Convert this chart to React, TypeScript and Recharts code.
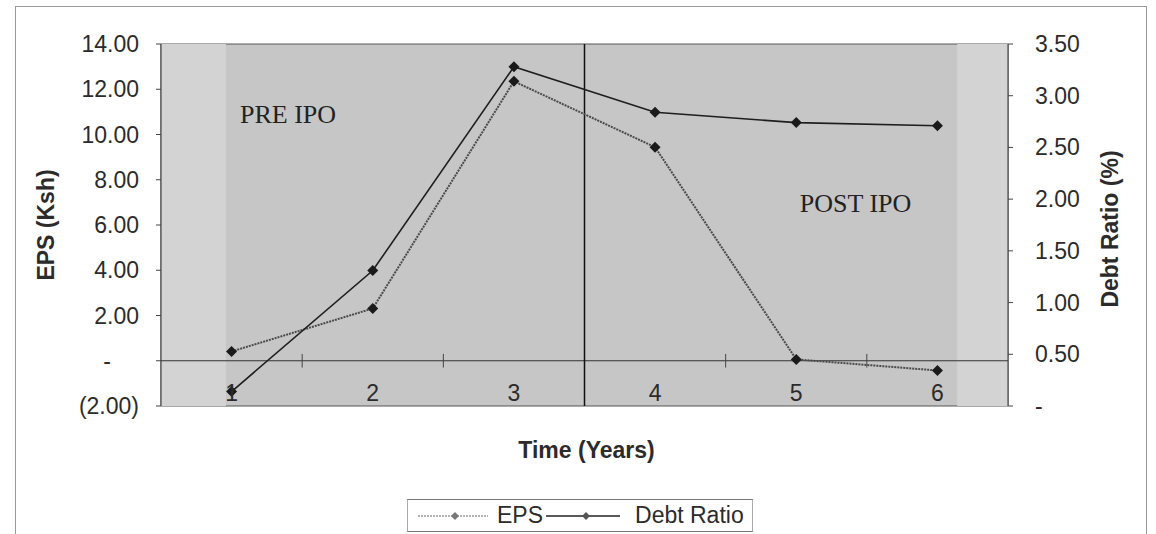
import React from "react";
import { LineChart, Line, XAxis, YAxis, Legend, ReferenceArea, ReferenceLine, ReferenceDot } from "recharts";

// values
const years = [1, 2, 3, 4, 5, 6];
const eps = [0.41, 2.31, 12.35, 9.44, 0.06, -0.43];
const debtRatio = [0.14, 1.31, 3.28, 2.84, 2.74, 2.71];
const epsTicks = [-2, 0, 2, 4, 6, 8, 10, 12, 14];
const debtTicks = [0, 0.5, 1, 1.5, 2, 2.5, 3, 3.5];
const yearBoundaries = [1.5, 2.5, 3.5, 4.5, 5.5];
const ipoSplit = 3.5;

const data = years.map((year, i) => ({ year, eps: eps[i], debt: debtRatio[i] }));

const FONT = "'Liberation Sans', Arial, sans-serif";
const SERIF = "'Liberation Serif', 'Times New Roman', serif";
const INK = "#2b2b2b";

const fmtEps = (v: number) => (v === 0 ? "-" : v < 0 ? `(${Math.abs(v).toFixed(2)})` : v.toFixed(2));
const fmtDebt = (v: number) => (v === 0 ? "-" : v.toFixed(2));

function Diamond({ cx, cy, size = 5.5, fill = "#1a1a1a" }: any) {
  if (cx == null || cy == null) return null;
  return (
    <polygon
      points={`${cx},${cy - size} ${cx + size},${cy} ${cx},${cy + size} ${cx - size},${cy}`}
      fill={fill}
    />
  );
}

const LeftTick = ({ x, y, payload }: any) => (
  <text
    x={payload.value === 0 ? x - 28 : x}
    y={y}
    dy={8}
    textAnchor="end"
    fill={INK}
    fontSize={23}
    fontFamily={FONT}
  >
    {fmtEps(payload.value)}
  </text>
);

const RightTick = ({ x, y, payload }: any) => (
  <text x={x} y={y} dy={8} textAnchor="start" fill={INK} fontSize={23} fontFamily={FONT}>
    {fmtDebt(payload.value)}
  </text>
);

// year labels sit inside the plot, just above its bottom edge
const YearTick = ({ x, y, payload }: any) => (
  <text x={x} y={y - 5} textAnchor="middle" fill={INK} fontSize={23} fontFamily={FONT}>
    {payload.value}
  </text>
);

const LegendBox = ({ payload }: any) => {
  const items = [...(payload || [])].sort((a: any, b: any) => (a.dataKey === "eps" ? -1 : b.dataKey === "eps" ? 1 : 0));
  return (
    <div style={{ height: 35 }}>
      <div
        style={{
          display: "flex",
          alignItems: "center",
          height: 31,
          border: "1px solid #aaa",
          borderTopColor: "#777",
          borderBottomColor: "#777",
          padding: "0 8px 0 10px",
          background: "#fff",
          fontFamily: FONT,
          fontSize: 23,
          color: INK,
        }}
      >
        {items.map((entry: any) => {
          const dotted = entry.dataKey === "eps";
          return (
            <div key={entry.value} style={{ display: "flex", alignItems: "center" }}>
              <svg width={dotted ? 70 : 74} height={14} style={{ marginLeft: dotted ? 0 : 3 }}>
                <line
                  x1={0}
                  y1={7}
                  x2={dotted ? 70 : 74}
                  y2={7}
                  stroke={dotted ? "#666" : "#222"}
                  strokeWidth={dotted ? 1.2 : 1.4}
                  strokeDasharray={dotted ? "2 1" : undefined}
                />
                <Diamond cx={dotted ? 37 : 40} cy={7} size={4} fill={dotted ? "#777" : "#555"} />
              </svg>
              <span style={{ marginLeft: dotted ? 9 : 15 }}>{entry.value}</span>
            </div>
          );
        })}
      </div>
    </div>
  );
};

export default function App() {
  return (
    <div style={{ position: "absolute", left: 0, top: 0, width: 1156, height: 534, background: "#fff", overflow: "hidden" }}>
      <div
        style={{
          position: "absolute",
          left: 15,
          top: 6,
          width: 1132,
          height: 560,
          border: "1px solid #999",
          boxSizing: "border-box",
        }}
      />
      <div style={{ position: "absolute", left: 0, top: 0 }}>
        <LineChart width={1156} height={534} data={data} margin={{ top: 44, right: 0, bottom: 0, left: 0 }}>
          <XAxis
            dataKey="year"
            type="number"
            domain={[0.5, 6.5]}
            ticks={years}
            tick={<YearTick />}
            tickLine={false}
            axisLine={false}
            tickSize={0}
            tickMargin={0}
            height={93}
            label={{
              content: ({ viewBox }: any) => (
                <text
                  x={viewBox.x + viewBox.width / 2 + 2}
                  y={viewBox.y + 52}
                  textAnchor="middle"
                  fill={INK}
                  fontSize={23}
                  fontWeight="bold"
                  fontFamily={FONT}
                >
                  Time (Years)
                </text>
              ),
            }}
          />
          <YAxis
            yAxisId="left"
            domain={[-2, 14]}
            ticks={epsTicks}
            width={161}
            tick={<LeftTick />}
            tickSize={5}
            tickMargin={17}
            tickLine={{ stroke: "#444" }}
            axisLine={{ stroke: "#333" }}
            label={{
              content: ({ viewBox }: any) => {
                const cx = viewBox.x + 46;
                const cy = viewBox.y + viewBox.height / 2;
                return (
                  <text
                    x={cx}
                    y={cy}
                    transform={`rotate(-90 ${cx} ${cy})`}
                    textAnchor="middle"
                    dominantBaseline="central"
                    fill={INK}
                    fontSize={23}
                    fontWeight="bold"
                    fontFamily={FONT}
                  >
                    EPS (Ksh)
                  </text>
                );
              },
            }}
          />
          <YAxis
            yAxisId="right"
            orientation="right"
            domain={[0, 3.5]}
            ticks={debtTicks}
            width={148}
            tick={<RightTick />}
            tickSize={5}
            tickMargin={22}
            tickLine={{ stroke: "#444" }}
            axisLine={{ stroke: "#333" }}
            label={{
              content: ({ viewBox }: any) => {
                const cx = viewBox.x + 102;
                const cy = viewBox.y + viewBox.height / 2 + 4;
                return (
                  <text
                    x={cx}
                    y={cy}
                    transform={`rotate(-90 ${cx} ${cy})`}
                    textAnchor="middle"
                    dominantBaseline="central"
                    fill={INK}
                    fontSize={23}
                    fontWeight="bold"
                    fontFamily={FONT}
                  >
                    Debt Ratio (%)
                  </text>
                );
              },
            }}
          />
          <Legend verticalAlign="bottom" content={<LegendBox />} wrapperStyle={{ left: 407, width: "auto" }} />

          {/* plot background (silver) with the lighter scanned edges */}
          <ReferenceArea yAxisId="left" x1={0.5} x2={6.5} y1={-2} y2={14} fill="#c6c6c6" fillOpacity={1} stroke="#555" strokeWidth={1} />
          <ReferenceArea yAxisId="left" x1={0.5} x2={0.96} y1={-2} y2={14} fill="#d3d3d3" fillOpacity={1} />
          <ReferenceArea yAxisId="left" x1={6.14} x2={6.5} y1={-2} y2={14} fill="#d3d3d3" fillOpacity={1} />

          <ReferenceLine yAxisId="left" y={0} stroke="#333" strokeWidth={1} />
          {yearBoundaries.map((b) => (
            <ReferenceLine
              key={b}
              yAxisId="left"
              segment={[
                { x: b, y: -0.3 },
                { x: b, y: 0.3 },
              ]}
              stroke="#444"
              strokeWidth={1}
            />
          ))}
          <ReferenceLine yAxisId="left" x={ipoSplit} stroke="#111" strokeWidth={1.5} />

          <ReferenceDot
            yAxisId="left"
            x={1.4}
            y={10.9}
            r={0}
            fillOpacity={0}
            strokeOpacity={0}
            label={{ value: "PRE IPO", position: "center", fill: "#222", fontSize: 26, fontFamily: SERIF }}
          />
          <ReferenceDot
            yAxisId="left"
            x={5.42}
            y={7.0}
            r={0}
            fillOpacity={0}
            strokeOpacity={0}
            label={{ value: "POST IPO", position: "center", fill: "#222", fontSize: 26, fontFamily: SERIF }}
          />

          <Line
            yAxisId="left"
            dataKey="eps"
            name="EPS"
            stroke="#4a4a4a"
            strokeWidth={2}
            strokeDasharray="2 1"
            dot={(p: any) => <Diamond key={`e${p.index}`} cx={p.cx} cy={p.cy} />}
            activeDot={false}
            isAnimationActive={false}
          />
          <Line
            yAxisId="right"
            dataKey="debt"
            name="Debt Ratio"
            stroke="#1e1e1e"
            strokeWidth={1.6}
            dot={(p: any) => <Diamond key={`d${p.index}`} cx={p.cx} cy={p.cy} />}
            activeDot={false}
            isAnimationActive={false}
          />
        </LineChart>
      </div>
    </div>
  );
}
